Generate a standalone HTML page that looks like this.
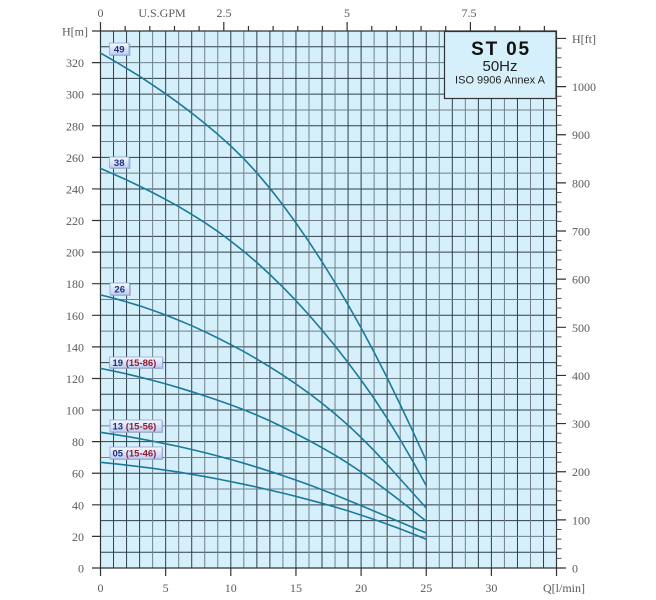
<!DOCTYPE html>
<html><head><meta charset="utf-8"><style>
html,body{margin:0;padding:0;background:#fff;}
svg{display:block;}
.ax{font-family:"Liberation Serif",serif;font-size:12px;fill:#5a5a5a;}
.lb{font-family:"Liberation Sans",sans-serif;font-size:9.5px;font-weight:bold;}
</style></head><body>
<svg width="656" height="600" viewBox="0 0 656 600" xmlns="http://www.w3.org/2000/svg">
<defs>
<linearGradient id="bg" x1="0" y1="0" x2="0" y2="1">
<stop offset="0" stop-color="#f6f8ff"/><stop offset="1" stop-color="#bccdf4"/>
</linearGradient>
</defs>
<rect x="100.5" y="31" width="456" height="537" fill="#d5f0fb"/>
<g stroke="#2f3f4a" stroke-width="1" fill="none">
<path d="M113.53 31V568M126.56 31V568M139.59 31V568M165.65 31V568M191.71 31V568M230.8 31V568M256.86 31V568M269.89 31V568M295.95 31V568M322.01 31V568M348.07 31V568M361.1 31V568M387.16 31V568M413.22 31V568M426.25 31V568M452.31 31V568M478.37 31V568M491.4 31V568M517.46 31V568M543.52 31V568"/>
<path d="M100.5 552.21H556.5M100.5 520.62H556.5M100.5 504.82H556.5M100.5 473.24H556.5M100.5 441.65H556.5M100.5 410.06H556.5M100.5 394.27H556.5M100.5 362.68H556.5M100.5 346.88H556.5M100.5 315.3H556.5M100.5 283.71H556.5M100.5 252.12H556.5M100.5 236.33H556.5M100.5 204.74H556.5M100.5 188.94H556.5M100.5 157.36H556.5M100.5 125.77H556.5M100.5 94.18H556.5M100.5 78.39H556.5M100.5 46.8H556.5"/>
</g>
<g stroke="#6f808a" stroke-width="1" fill="none">
<path d="M152.62 31V568M178.68 31V568M204.74 31V568M217.77 31V568M243.83 31V568M282.92 31V568M308.98 31V568M335.04 31V568M374.13 31V568M400.19 31V568M439.28 31V568M465.34 31V568M504.43 31V568M530.49 31V568"/>
<path d="M100.5 536.41H556.5M100.5 489.03H556.5M100.5 457.44H556.5M100.5 425.85H556.5M100.5 378.47H556.5M100.5 331.09H556.5M100.5 299.5H556.5M100.5 267.91H556.5M100.5 220.53H556.5M100.5 173.15H556.5M100.5 141.56H556.5M100.5 109.97H556.5M100.5 62.59H556.5"/>
</g>
<!-- frame -->
<g stroke="#333" stroke-width="1.2" fill="none">
<path d="M100.5 31V568H556.5V31H100.5"/>
<path d="M92 568H100.5M92 536.41H100.5M92 504.82H100.5M92 473.24H100.5M92 441.65H100.5M92 410.06H100.5M92 378.47H100.5M92 346.88H100.5M92 315.3H100.5M92 283.71H100.5M92 252.12H100.5M92 220.53H100.5M92 188.94H100.5M92 157.36H100.5M92 125.77H100.5M92 94.18H100.5M92 62.59H100.5M92 31H100.5"/>
<path d="M100.5 568V576M165.65 568V576M230.8 568V576M295.95 568V576M361.1 568V576M426.25 568V576M491.4 568V576M556.5 568V576"/>
<path d="M100.5 31V22M223.8 31V22M347.1 31V22M470.4 31V22"/>
<path d="M125.16 31V26M149.82 31V26M174.48 31V26M199.14 31V26M248.46 31V26M273.12 31V26M297.78 31V26M322.44 31V26M371.76 31V26M396.42 31V26M421.08 31V26M445.74 31V26M495.06 31V26M519.72 31V26M544.38 31V26"/>
<path d="M556.5 568H566M556.5 519.86H566M556.5 471.72H566M556.5 423.58H566M556.5 375.44H566M556.5 327.3H566M556.5 279.16H566M556.5 231.02H566M556.5 182.88H566M556.5 134.74H566M556.5 86.6H566M556.5 38.46H566"/>
</g>
<g stroke="#555" stroke-width="1" fill="none">
<path d="M556.5 558.37h5M556.5 548.74h5M556.5 539.12h5M556.5 529.49h5M556.5 510.23h5M556.5 500.6h5M556.5 490.98h5M556.5 481.35h5M556.5 462.09h5M556.5 452.46h5M556.5 442.84h5M556.5 433.21h5M556.5 413.95h5M556.5 404.32h5M556.5 394.7h5M556.5 385.07h5M556.5 365.81h5M556.5 356.18h5M556.5 346.56h5M556.5 336.93h5M556.5 317.67h5M556.5 308.04h5M556.5 298.42h5M556.5 288.79h5M556.5 269.53h5M556.5 259.9h5M556.5 250.28h5M556.5 240.65h5M556.5 221.39h5M556.5 211.76h5M556.5 202.14h5M556.5 192.51h5M556.5 173.25h5M556.5 163.62h5M556.5 154h5M556.5 144.37h5M556.5 125.11h5M556.5 115.48h5M556.5 105.86h5M556.5 96.23h5M556.5 76.97h5M556.5 67.34h5M556.5 57.72h5M556.5 48.09h5"/>
</g>
<!-- curves -->
<g stroke="#1b7a9a" stroke-width="1.6" fill="none" stroke-linejoin="round" stroke-linecap="round">
<polyline points="100.5,53.1 113.53,60.5 126.56,68.3 139.59,76.3 152.62,84.9 165.65,93.8 178.68,103.2 191.71,113.05 204.74,123.4 217.77,134.3 230.8,146 243.83,158.7 256.86,172.8 269.89,188.3 282.92,205.05 295.95,222.9 308.98,241.85 322.01,261.75 335.04,282.76 348.07,304.8 361.1,327.9 374.13,352.25 387.16,377.8 400.19,404.5 413.22,432.2 426.25,460.6"/>
<polyline points="100.5,168.4 113.53,174.1 126.56,179.9 139.59,186.1 152.62,192.6 165.65,199.4 178.68,206.6 191.71,214.4 204.74,222.6 217.77,231.4 230.8,241.1 243.83,251.4 256.86,262.5 269.89,274.5 282.92,287.2 295.95,300.7 308.98,315 322.01,330.1 335.04,345.9 348.07,362.6 361.1,380.05 374.13,398.5 387.16,418.4 400.19,439.6 413.22,462 426.25,485.6"/>
<polyline points="100.5,294.9 113.53,298.2 126.56,301.9 139.59,305.8 152.62,310.2 165.65,315 178.68,320.2 191.71,325.7 204.74,331.7 217.77,338 230.8,344.7 243.83,351.6 256.86,359.05 269.89,366.9 282.92,375.2 295.95,384 308.98,393.3 322.01,403.3 335.04,413.85 348.07,425.2 361.1,437.5 374.13,450.65 387.16,464.55 400.19,479 413.22,493.5 426.25,508"/>
<polyline points="100.5,368.4 113.53,371.05 126.56,373.9 139.59,377.05 152.62,380.4 165.65,383.9 178.68,387.7 191.71,391.7 204.74,395.85 217.77,400.3 230.8,404.85 243.83,409.7 256.86,415.1 269.89,420.9 282.92,427.1 295.95,433.75 308.98,440.5 322.01,447.65 335.04,455.2 348.07,463.3 361.1,471.97 374.13,481.1 387.16,490.8 400.19,500.8 413.22,510.9 426.25,521.2"/>
<polyline points="100.5,432.3 113.53,434.3 126.56,436.4 139.59,438.7 152.62,441.2 165.65,443.8 178.68,446.5 191.71,449.5 204.74,452.6 217.77,456 230.8,459.5 243.83,463.2 256.86,467.2 269.89,471.3 282.92,475.6 295.95,480.1 308.98,484.8 322.01,489.8 335.04,494.9 348.07,500.2 361.1,505.6 374.13,511.1 387.16,516.6 400.19,522.1 413.22,527.6 426.25,533"/>
<polyline points="100.5,462.3 113.53,463.7 126.56,465.1 139.59,466.65 152.62,468.3 165.65,470.2 178.68,472.1 191.71,474.3 204.74,476.55 217.77,479 230.8,481.6 243.83,484.3 256.86,487.1 269.89,490.1 282.92,493.1 295.95,496.4 308.98,499.8 322.01,503.3 335.04,507 348.07,510.9 361.1,515.1 374.13,519.5 387.16,524.1 400.19,528.9 413.22,534 426.25,539.3"/>
</g>
<!-- curve labels -->
<g>
<rect x="110.5" y="44" width="20" height="12" fill="#8f9bb6" opacity="0.6"/>
<rect x="109.5" y="43" width="19.5" height="12" fill="url(#bg)" stroke="#8fa4d6" stroke-width="0.8"/>
<text class="lb" x="119.2" y="52.6" text-anchor="middle" fill="#1e3372">49</text>

<rect x="110.5" y="158" width="20" height="11" fill="#8f9bb6" opacity="0.6"/>
<rect x="109.5" y="157" width="19.5" height="11" fill="url(#bg)" stroke="#8fa4d6" stroke-width="0.8"/>
<text class="lb" x="119.2" y="166" text-anchor="middle" fill="#1e3372">38</text>

<rect x="111" y="284" width="20" height="12" fill="#8f9bb6" opacity="0.6"/>
<rect x="110" y="283" width="19.5" height="12" fill="url(#bg)" stroke="#8fa4d6" stroke-width="0.8"/>
<text class="lb" x="119.7" y="292.6" text-anchor="middle" fill="#1e3372">26</text>

<rect x="110.5" y="358" width="53" height="11" fill="#8f9bb6" opacity="0.6"/>
<rect x="109.5" y="357" width="53" height="11" fill="url(#bg)" stroke="#8fa4d6" stroke-width="0.8"/>
<text class="lb" x="112.5" y="366" fill="#1e3372">19 <tspan fill="#8e1f30">(15-86)</tspan></text>

<rect x="111" y="421" width="52" height="12" fill="#8f9bb6" opacity="0.6"/>
<rect x="110" y="420" width="52" height="12" fill="url(#bg)" stroke="#8fa4d6" stroke-width="0.8"/>
<text class="lb" x="112.5" y="429.6" fill="#1e3372">13 <tspan fill="#8e1f30">(15-56)</tspan></text>

<rect x="111" y="448" width="52" height="12" fill="#8f9bb6" opacity="0.6"/>
<rect x="110" y="447" width="52" height="12" fill="url(#bg)" stroke="#8fa4d6" stroke-width="0.8"/>
<text class="lb" x="112.5" y="456.6" fill="#1e3372">05 <tspan fill="#8e1f30">(15-46)</tspan></text>
</g>
<!-- title box -->
<rect x="444.5" y="31.5" width="111.5" height="67" fill="#d5f0fb" stroke="#333" stroke-width="1.2"/>
<text x="501" y="55" text-anchor="middle" font-family="Liberation Sans, sans-serif" font-size="19" font-weight="bold" letter-spacing="1.8" fill="#111">ST 05</text>
<text x="500" y="71" text-anchor="middle" font-family="Liberation Sans, sans-serif" font-size="15" fill="#222">50Hz</text>
<text x="500" y="83.5" text-anchor="middle" font-family="Liberation Sans, sans-serif" font-size="11" fill="#222">ISO 9906 Annex A</text>
<!-- left labels -->
<g class="ax" text-anchor="end">
<text x="84" y="572.5">0</text>
<text x="84" y="540.9">20</text>
<text x="84" y="509.3">40</text>
<text x="84" y="477.7">60</text>
<text x="84" y="446.1">80</text>
<text x="84" y="414.6">100</text>
<text x="84" y="383">120</text>
<text x="84" y="351.4">140</text>
<text x="84" y="319.8">160</text>
<text x="84" y="288.2">180</text>
<text x="84" y="256.6">200</text>
<text x="84" y="225">220</text>
<text x="84" y="193.4">240</text>
<text x="84" y="161.9">260</text>
<text x="84" y="130.3">280</text>
<text x="84" y="98.7">300</text>
<text x="84" y="67.1">320</text>
<text x="88" y="35.5">H[m]</text>
</g>
<!-- bottom labels -->
<g class="ax" text-anchor="middle">
<text x="100.5" y="592">0</text>
<text x="165.65" y="592">5</text>
<text x="230.8" y="592">10</text>
<text x="295.95" y="592">15</text>
<text x="361.1" y="592">20</text>
<text x="426.25" y="592">25</text>
<text x="491.4" y="592">30</text>
</g>
<text class="ax" x="543" y="592">Q[l/min]</text>
<!-- top labels -->
<g class="ax" text-anchor="middle">
<text x="100.5" y="17">0</text>
<text x="162" y="17">U.S.GPM</text>
<text x="224" y="17">2.5</text>
<text x="347" y="17">5</text>
<text x="469" y="17">7.5</text>
</g>
<!-- right labels -->
<g class="ax">
<text x="572" y="572.5">0</text>
<text x="572" y="524.4">100</text>
<text x="572" y="476.2">200</text>
<text x="572" y="428.1">300</text>
<text x="572" y="379.9">400</text>
<text x="572" y="331.8">500</text>
<text x="572" y="283.7">600</text>
<text x="572" y="235.5">700</text>
<text x="572" y="187.4">800</text>
<text x="572" y="139.2">900</text>
<text x="572" y="91.1">1000</text>
<text x="572" y="43">H[ft]</text>
</g>
</svg>
</body></html>
